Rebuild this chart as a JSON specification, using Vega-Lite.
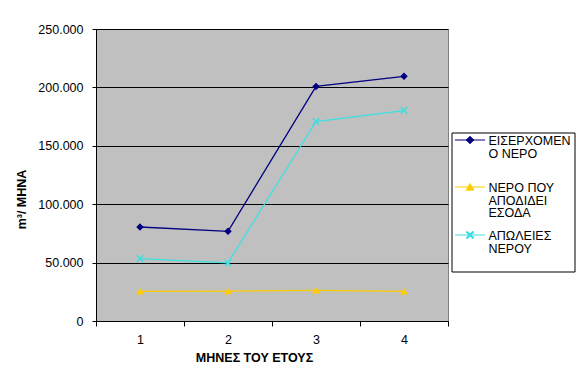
{
  "$schema": "https://vega.github.io/schema/vega-lite/v6.json",
  "autosize": {"type": "none"},
  "width": 352,
  "height": 292,
  "padding": {"left": 96, "top": 29, "right": 128, "bottom": 61},
  "background": "white",
  "config": {
    "font": "Liberation Sans",
    "view": {"fill": "#C0C0C0", "stroke": "#808080", "strokeWidth": 1},
    "axis": {"labelFont": "Liberation Sans", "titleFont": "Liberation Sans", "labelColor": "black", "titleColor": "black", "labelFontSize": 12.5, "titleFontSize": 12.5, "titleFontWeight": "bold", "domainColor": "black", "tickColor": "black", "gridColor": "black", "gridOpacity": 1, "gridWidth": 1, "domainWidth": 1, "tickWidth": 1},
    "legend": {
      "orient": "none",
      "legendX": 355.5,
      "legendY": 103.5,
      "padding": 3,
      "strokeColor": "black",
      "fillColor": "white",
      "symbolSize": 900,
      "symbolStrokeWidth": 1,
      "labelFont": "Liberation Sans",
      "labelFontSize": 12.5,
      "labelColor": "black",
      "labelOffset": 3,
      "labelLimit": 400,
      "labelBaseline": "top",
      "rowPadding": 8
    }
  },
  "data": {
    "values": [
      {"month": "1", "series": "ΕΙΣΕΡΧΟΜΕΝΟ ΝΕΡΟ", "value": 80500},
      {"month": "2", "series": "ΕΙΣΕΡΧΟΜΕΝΟ ΝΕΡΟ", "value": 76800},
      {"month": "3", "series": "ΕΙΣΕΡΧΟΜΕΝΟ ΝΕΡΟ", "value": 200800},
      {"month": "4", "series": "ΕΙΣΕΡΧΟΜΕΝΟ ΝΕΡΟ", "value": 209500},
      {"month": "1", "series": "ΝΕΡΟ ΠΟΥ ΑΠΟΔΙΔΕΙ ΕΣΟΔΑ", "value": 25400},
      {"month": "2", "series": "ΝΕΡΟ ΠΟΥ ΑΠΟΔΙΔΕΙ ΕΣΟΔΑ", "value": 25500},
      {"month": "3", "series": "ΝΕΡΟ ΠΟΥ ΑΠΟΔΙΔΕΙ ΕΣΟΔΑ", "value": 26200},
      {"month": "4", "series": "ΝΕΡΟ ΠΟΥ ΑΠΟΔΙΔΕΙ ΕΣΟΔΑ", "value": 25400},
      {"month": "1", "series": "ΑΠΩΛΕΙΕΣ ΝΕΡΟΥ", "value": 53400},
      {"month": "2", "series": "ΑΠΩΛΕΙΕΣ ΝΕΡΟΥ", "value": 49800},
      {"month": "3", "series": "ΑΠΩΛΕΙΕΣ ΝΕΡΟΥ", "value": 170800},
      {"month": "4", "series": "ΑΠΩΛΕΙΕΣ ΝΕΡΟΥ", "value": 180200}
    ]
  },
  "encoding": {
    "x": {
      "field": "month", "type": "ordinal",
      "scale": {"type": "band", "paddingInner": 0, "paddingOuter": 0},
      "axis": {"title": "ΜΗΝΕΣ ΤΟΥ ΕΤΟΥΣ", "labelAngle": 0, "tickBand": "extent", "tickSize": 5, "labelPadding": 7, "grid": false, "titleX": 158, "titleY": 36, "titleAlign": "center", "titleBaseline": "middle"}
    },
    "y": {
      "field": "value", "type": "quantitative",
      "scale": {"domain": [0, 250000], "nice": false, "zero": true},
      "axis": {"title": "m³/ ΜΗΝΑ", "values": [0, 50000, 100000, 150000, 200000, 250000], "labelExpr": "datum.value == 0 ? '0' : format(datum.value / 1000, 'd') + '.000'", "tickSize": 4, "labelPadding": 9, "grid": true, "titleX": -75, "titleY": 170, "titleAngle": -90, "titleAlign": "center", "titleBaseline": "middle"}
    },
    "stroke": {
      "field": "series", "type": "nominal",
      "scale": {"domain": ["ΕΙΣΕΡΧΟΜΕΝΟ ΝΕΡΟ", "ΝΕΡΟ ΠΟΥ ΑΠΟΔΙΔΕΙ ΕΣΟΔΑ", "ΑΠΩΛΕΙΕΣ ΝΕΡΟΥ"], "range": ["#000080", "#FFCC00", "#3CE0E0"]},
      "legend": {
        "title": null,
        "labelExpr": "datum.label == 'ΕΙΣΕΡΧΟΜΕΝΟ ΝΕΡΟ' ? ['ΕΙΣΕΡΧΟΜΕΝ', 'Ο ΝΕΡΟ', ' '] : datum.label == 'ΝΕΡΟ ΠΟΥ ΑΠΟΔΙΔΕΙ ΕΣΟΔΑ' ? ['ΝΕΡΟ ΠΟΥ', 'ΑΠΟΔΙΔΕΙ', 'ΕΣΟΔΑ'] : ['ΑΠΩΛΕΙΕΣ', 'ΝΕΡΟΥ', ' ']",
        "encode": {
          "symbols": {"update": {"strokeWidth": {"value": 1}, "y": {"value": 4.5}}},
          "labels": {"update": {"y": {"value": 4.5}, "dy": {"value": -5}, "lineHeight": {"value": 12.7}, "text": {"signal": "datum.label == 'ΕΙΣΕΡΧΟΜΕΝΟ ΝΕΡΟ' ? ['ΕΙΣΕΡΧΟΜΕΝ', 'Ο ΝΕΡΟ', ' '] : datum.label == 'ΝΕΡΟ ΠΟΥ ΑΠΟΔΙΔΕΙ ΕΣΟΔΑ' ? ['ΝΕΡΟ ΠΟΥ', 'ΑΠΟΔΙΔΕΙ', 'ΕΣΟΔΑ'] : ['ΑΠΩΛΕΙΕΣ', 'ΝΕΡΟΥ', ' ']"}}}
        }
      }
    }
  },
  "layer": [
    {
      "mark": {"type": "line", "strokeWidth": 1.3}
    },
    {
      "mark": {"type": "point", "filled": true, "size": 900, "strokeWidth": 0, "opacity": 1},
      "encoding": {
        "shape": {
          "field": "series", "type": "nominal",
          "scale": {"domain": ["ΕΙΣΕΡΧΟΜΕΝΟ ΝΕΡΟ", "ΝΕΡΟ ΠΟΥ ΑΠΟΔΙΔΕΙ ΕΣΟΔΑ", "ΑΠΩΛΕΙΕΣ ΝΕΡΟΥ"], "range": [
            "M-1,0H1M0,-0.25L0.25,0L0,0.25L-0.25,0Z",
            "M-1,0H1M0,-0.23L0.26,0.21L-0.26,0.21Z",
            "M-1,0H1M-0.185,-0.255L0.255,0.185L0.185,0.255L-0.255,-0.185ZM-0.255,0.185L0.185,-0.255L0.255,-0.185L-0.185,0.255Z"
          ]},
          "legend": {
            "title": null,
            "labelExpr": "datum.label == 'ΕΙΣΕΡΧΟΜΕΝΟ ΝΕΡΟ' ? ['ΕΙΣΕΡΧΟΜΕΝ', 'Ο ΝΕΡΟ', ' '] : datum.label == 'ΝΕΡΟ ΠΟΥ ΑΠΟΔΙΔΕΙ ΕΣΟΔΑ' ? ['ΝΕΡΟ ΠΟΥ', 'ΑΠΟΔΙΔΕΙ', 'ΕΣΟΔΑ'] : ['ΑΠΩΛΕΙΕΣ', 'ΝΕΡΟΥ', ' ']",
            "encode": {
              "symbols": {"update": {"strokeWidth": {"value": 1}, "y": {"value": 4.5}}},
              "labels": {"update": {"y": {"value": 4.5}, "dy": {"value": -5}, "lineHeight": {"value": 12.7}, "text": {"signal": "datum.label == 'ΕΙΣΕΡΧΟΜΕΝΟ ΝΕΡΟ' ? ['ΕΙΣΕΡΧΟΜΕΝ', 'Ο ΝΕΡΟ', ' '] : datum.label == 'ΝΕΡΟ ΠΟΥ ΑΠΟΔΙΔΕΙ ΕΣΟΔΑ' ? ['ΝΕΡΟ ΠΟΥ', 'ΑΠΟΔΙΔΕΙ', 'ΕΣΟΔΑ'] : ['ΑΠΩΛΕΙΕΣ', 'ΝΕΡΟΥ', ' ']"}}}
            }
          }
        },
        "fill": {
          "field": "series", "type": "nominal",
          "scale": {"domain": ["ΕΙΣΕΡΧΟΜΕΝΟ ΝΕΡΟ", "ΝΕΡΟ ΠΟΥ ΑΠΟΔΙΔΕΙ ΕΣΟΔΑ", "ΑΠΩΛΕΙΕΣ ΝΕΡΟΥ"], "range": ["#000080", "#FFCC00", "#3CE0E0"]},
          "legend": {
            "title": null,
            "labelExpr": "datum.label == 'ΕΙΣΕΡΧΟΜΕΝΟ ΝΕΡΟ' ? ['ΕΙΣΕΡΧΟΜΕΝ', 'Ο ΝΕΡΟ', ' '] : datum.label == 'ΝΕΡΟ ΠΟΥ ΑΠΟΔΙΔΕΙ ΕΣΟΔΑ' ? ['ΝΕΡΟ ΠΟΥ', 'ΑΠΟΔΙΔΕΙ', 'ΕΣΟΔΑ'] : ['ΑΠΩΛΕΙΕΣ', 'ΝΕΡΟΥ', ' ']",
            "encode": {
              "symbols": {"update": {"strokeWidth": {"value": 1}, "y": {"value": 4.5}}},
              "labels": {"update": {"y": {"value": 4.5}, "dy": {"value": -5}, "lineHeight": {"value": 12.7}, "text": {"signal": "datum.label == 'ΕΙΣΕΡΧΟΜΕΝΟ ΝΕΡΟ' ? ['ΕΙΣΕΡΧΟΜΕΝ', 'Ο ΝΕΡΟ', ' '] : datum.label == 'ΝΕΡΟ ΠΟΥ ΑΠΟΔΙΔΕΙ ΕΣΟΔΑ' ? ['ΝΕΡΟ ΠΟΥ', 'ΑΠΟΔΙΔΕΙ', 'ΕΣΟΔΑ'] : ['ΑΠΩΛΕΙΕΣ', 'ΝΕΡΟΥ', ' ']"}}}
            }
          }
        }
      }
    }
  ]
}
